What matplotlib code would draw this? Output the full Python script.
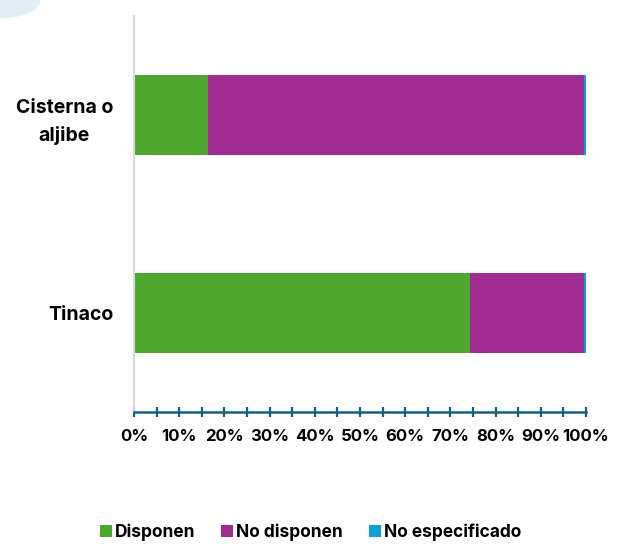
import matplotlib
matplotlib.use('Agg')
import matplotlib.pyplot as plt
from matplotlib.patches import Patch, Ellipse
from matplotlib.ticker import FuncFormatter, MultipleLocator

plt.rcParams['font.family'] = ['Inter', 'DejaVu Sans']

categories = ['Tinaco', 'Cisterna o\naljibe']
disponen = [74.3, 16.4]
no_disponen = [25.2, 83.1]
no_especificado = [0.5, 0.5]

series = ['Disponen', 'No disponen', 'No especificado']
colors = ['#4EA72E', '#A02B93', '#0F9ED5']

fig = plt.figure(figsize=(6.21, 5.44), dpi=100)
ax = fig.add_axes([0.2158, 0.2426, 0.7278, 0.728])

# light decoration in the top-left corner
fig.patches.append(Ellipse((0.0, 1.0), 0.13, 0.068, transform=fig.transFigure,
                           facecolor='#E2F0F6', edgecolor='none', zorder=0))

y = range(len(categories))
left = [0, 0]
for vals, col in zip([disponen, no_disponen, no_especificado], colors):
    ax.barh(y, vals, left=left, height=0.404, color=col, zorder=2)
    left = [l + v for l, v in zip(left, vals)]

ax.set_xlim(0, 100)
ax.set_ylim(-0.5, 1.5)
ax.set_yticks(list(y))
ax.set_yticklabels(categories, fontsize=14, fontweight='bold', ha='right',
                   multialignment='center', linespacing=1.65)
ax.tick_params(axis='y', length=0, pad=15)

ax.xaxis.set_major_locator(MultipleLocator(10))
ax.xaxis.set_minor_locator(MultipleLocator(5))
ax.xaxis.set_major_formatter(FuncFormatter(lambda v, _: f'{v:.0f}%'))
ax.tick_params(axis='x', which='both', direction='inout', length=7, width=1.6,
               color='#156082', labelsize=12, pad=9)
for lab in ax.get_xticklabels():
    lab.set_fontweight('bold')

for s in ['top', 'right']:
    ax.spines[s].set_visible(False)
ax.spines['left'].set_color('#D9D9D9')
ax.spines['left'].set_linewidth(1.5)
ax.spines['bottom'].set_color('#156082')
ax.spines['bottom'].set_linewidth(1.8)
ax.spines['bottom'].set_zorder(3)

handles = [Patch(facecolor=c, edgecolor='none') for c in colors]
leg = fig.legend(handles, series, loc='center', bbox_to_anchor=(0.5, 0.021), ncol=3,
                 frameon=False, handlelength=0.7, handleheight=0.7, handletextpad=0.17,
                 columnspacing=1.5, borderpad=0, prop={'weight': 'bold', 'size': 12.5})

fig.savefig('out.png', dpi=100)
